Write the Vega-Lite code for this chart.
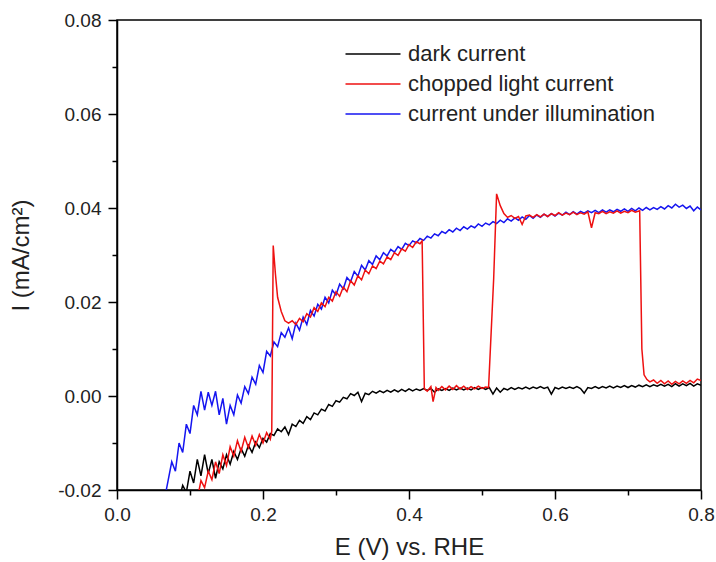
{
"$schema": "https://vega.github.io/schema/vega-lite/v6.json",
"width": 584, "height": 470,
"autosize": {"type": "none"},
"padding": {"left": 117, "top": 20, "right": 15, "bottom": 72},
"datasets": {
"dark": [
{"E":0.085,"I":-0.022},{"E":0.09,"I":-0.019},{"E":0.095,"I":-0.0205},{"E":0.1,"I":-0.016},{"E":0.105,"I":-0.0185},{"E":0.11,"I":-0.0135},{"E":0.115,"I":-0.017},{"E":0.12,"I":-0.0125},{"E":0.125,"I":-0.0165},{"E":0.13,"I":-0.0135},{"E":0.135,"I":-0.0175},{"E":0.14,"I":-0.014},{"E":0.145,"I":-0.0155},{"E":0.15,"I":-0.0125},{"E":0.155,"I":-0.0145},{"E":0.16,"I":-0.0118},{"E":0.165,"I":-0.0135},{"E":0.17,"I":-0.0112},{"E":0.175,"I":-0.0128},{"E":0.18,"I":-0.0105},{"E":0.185,"I":-0.012},{"E":0.19,"I":-0.0098},{"E":0.195,"I":-0.011},{"E":0.2,"I":-0.009},{"E":0.205,"I":-0.0098},{"E":0.21,"I":-0.008},{"E":0.215,"I":-0.0084},{"E":0.22,"I":-0.007},{"E":0.225,"I":-0.0076},{"E":0.23,"I":-0.0066},{"E":0.235,"I":-0.0082},{"E":0.24,"I":-0.006},{"E":0.245,"I":-0.0065},{"E":0.25,"I":-0.0052},{"E":0.255,"I":-0.0058},{"E":0.26,"I":-0.0044},{"E":0.265,"I":-0.005},{"E":0.27,"I":-0.0036},{"E":0.275,"I":-0.004},{"E":0.28,"I":-0.0028},{"E":0.285,"I":-0.0032},{"E":0.29,"I":-0.0018},{"E":0.295,"I":-0.0022},{"E":0.3,"I":-0.001},{"E":0.305,"I":-0.0013},{"E":0.31,"I":-0.0003},{"E":0.315,"I":-0.0006},{"E":0.32,"I":0.0005},{"E":0.325,"I":0.0001},{"E":0.33,"I":0.0008},{"E":0.335,"I":-0.0012},{"E":0.34,"I":0.0006},{"E":0.345,"I":0.0003},{"E":0.35,"I":0.001},{"E":0.355,"I":0.0006},{"E":0.36,"I":0.0011},{"E":0.365,"I":0.0007},{"E":0.37,"I":0.0012},{"E":0.375,"I":0.0008},{"E":0.38,"I":0.0013},{"E":0.385,"I":0.0009},{"E":0.39,"I":0.0014},{"E":0.395,"I":0.001},{"E":0.4,"I":0.0015},{"E":0.405,"I":0.0011},{"E":0.41,"I":0.0015},{"E":0.415,"I":0.0012},{"E":0.42,"I":0.0016},{"E":0.425,"I":0.0012},{"E":0.43,"I":0.0016},{"E":0.435,"I":0.0008},{"E":0.44,"I":0.0015},{"E":0.445,"I":0.0012},{"E":0.45,"I":0.0016},{"E":0.455,"I":0.0012},{"E":0.46,"I":0.0017},{"E":0.465,"I":0.0013},{"E":0.47,"I":0.0017},{"E":0.475,"I":0.0013},{"E":0.48,"I":0.0017},{"E":0.485,"I":0.0013},{"E":0.49,"I":0.0018},{"E":0.495,"I":0.0014},{"E":0.5,"I":0.0018},{"E":0.505,"I":0.0014},{"E":0.51,"I":0.0018},{"E":0.515,"I":0.0004},{"E":0.52,"I":0.0017},{"E":0.525,"I":0.0008},{"E":0.53,"I":0.0016},{"E":0.535,"I":0.0013},{"E":0.54,"I":0.0018},{"E":0.545,"I":0.0014},{"E":0.55,"I":0.0018},{"E":0.555,"I":0.0015},{"E":0.56,"I":0.0019},{"E":0.565,"I":0.0015},{"E":0.57,"I":0.0019},{"E":0.575,"I":0.0016},{"E":0.58,"I":0.002},{"E":0.585,"I":0.0016},{"E":0.59,"I":0.0019},{"E":0.595,"I":0.0004},{"E":0.6,"I":0.0018},{"E":0.605,"I":0.0015},{"E":0.61,"I":0.0019},{"E":0.615,"I":0.0016},{"E":0.62,"I":0.0019},{"E":0.625,"I":0.0016},{"E":0.63,"I":0.002},{"E":0.635,"I":0.0016},{"E":0.64,"I":0.0006},{"E":0.645,"I":0.0018},{"E":0.65,"I":0.0016},{"E":0.655,"I":0.002},{"E":0.66,"I":0.0016},{"E":0.665,"I":0.002},{"E":0.67,"I":0.0017},{"E":0.675,"I":0.0021},{"E":0.68,"I":0.0017},{"E":0.685,"I":0.0021},{"E":0.69,"I":0.0018},{"E":0.695,"I":0.0022},{"E":0.7,"I":0.0018},{"E":0.705,"I":0.0022},{"E":0.71,"I":0.0019},{"E":0.715,"I":0.0023},{"E":0.72,"I":0.002},{"E":0.725,"I":0.0024},{"E":0.73,"I":0.002},{"E":0.735,"I":0.0024},{"E":0.74,"I":0.0021},{"E":0.745,"I":0.0025},{"E":0.75,"I":0.0021},{"E":0.755,"I":0.0025},{"E":0.76,"I":0.002},{"E":0.765,"I":0.0026},{"E":0.77,"I":0.0021},{"E":0.775,"I":0.0026},{"E":0.78,"I":0.0022},{"E":0.785,"I":0.0027},{"E":0.79,"I":0.0021},{"E":0.795,"I":0.0026},{"E":0.8,"I":0.0023}
],
"illum": [
{"E":0.065,"I":-0.022},{"E":0.07,"I":-0.018},{"E":0.075,"I":-0.014},{"E":0.08,"I":-0.016},{"E":0.085,"I":-0.01},{"E":0.09,"I":-0.012},{"E":0.095,"I":-0.006},{"E":0.1,"I":-0.008},{"E":0.105,"I":-0.002},{"E":0.11,"I":-0.004},{"E":0.115,"I":0.001},{"E":0.12,"I":-0.003},{"E":0.125,"I":0.0008},{"E":0.13,"I":-0.002},{"E":0.135,"I":0.001},{"E":0.14,"I":-0.004},{"E":0.145,"I":-0.0005},{"E":0.15,"I":-0.006},{"E":0.155,"I":-0.002},{"E":0.16,"I":-0.004},{"E":0.165,"I":0.0002},{"E":0.17,"I":-0.0015},{"E":0.175,"I":0.002},{"E":0.18,"I":0.0005},{"E":0.185,"I":0.004},{"E":0.19,"I":0.0025},{"E":0.195,"I":0.0065},{"E":0.2,"I":0.005},{"E":0.205,"I":0.0095},{"E":0.21,"I":0.0085},{"E":0.215,"I":0.0115},{"E":0.22,"I":0.0105},{"E":0.225,"I":0.0135},{"E":0.23,"I":0.0125},{"E":0.235,"I":0.0145},{"E":0.24,"I":0.0122},{"E":0.245,"I":0.0155},{"E":0.25,"I":0.014},{"E":0.255,"I":0.0168},{"E":0.26,"I":0.0152},{"E":0.265,"I":0.0182},{"E":0.27,"I":0.017},{"E":0.275,"I":0.0195},{"E":0.28,"I":0.0185},{"E":0.285,"I":0.021},{"E":0.29,"I":0.0198},{"E":0.295,"I":0.0225},{"E":0.3,"I":0.0215},{"E":0.305,"I":0.0238},{"E":0.31,"I":0.0228},{"E":0.315,"I":0.0252},{"E":0.32,"I":0.0243},{"E":0.325,"I":0.0265},{"E":0.33,"I":0.0255},{"E":0.335,"I":0.0278},{"E":0.34,"I":0.0268},{"E":0.345,"I":0.0288},{"E":0.35,"I":0.028},{"E":0.355,"I":0.0298},{"E":0.36,"I":0.029},{"E":0.365,"I":0.0305},{"E":0.37,"I":0.0298},{"E":0.375,"I":0.0312},{"E":0.38,"I":0.0306},{"E":0.385,"I":0.0318},{"E":0.39,"I":0.0312},{"E":0.395,"I":0.0325},{"E":0.4,"I":0.032},{"E":0.405,"I":0.033},{"E":0.41,"I":0.0326},{"E":0.415,"I":0.0335},{"E":0.42,"I":0.0331},{"E":0.425,"I":0.034},{"E":0.43,"I":0.0336},{"E":0.435,"I":0.0345},{"E":0.44,"I":0.0341},{"E":0.445,"I":0.035},{"E":0.45,"I":0.0346},{"E":0.455,"I":0.0354},{"E":0.46,"I":0.0349},{"E":0.465,"I":0.0357},{"E":0.47,"I":0.0352},{"E":0.475,"I":0.036},{"E":0.48,"I":0.0355},{"E":0.485,"I":0.0362},{"E":0.49,"I":0.0358},{"E":0.495,"I":0.0366},{"E":0.5,"I":0.0361},{"E":0.505,"I":0.0368},{"E":0.51,"I":0.0364},{"E":0.515,"I":0.0371},{"E":0.52,"I":0.0367},{"E":0.525,"I":0.0374},{"E":0.53,"I":0.0369},{"E":0.535,"I":0.0377},{"E":0.54,"I":0.0372},{"E":0.545,"I":0.0379},{"E":0.55,"I":0.0374},{"E":0.555,"I":0.0381},{"E":0.56,"I":0.0376},{"E":0.565,"I":0.0384},{"E":0.57,"I":0.0378},{"E":0.575,"I":0.0385},{"E":0.58,"I":0.038},{"E":0.585,"I":0.0387},{"E":0.59,"I":0.0382},{"E":0.595,"I":0.0388},{"E":0.6,"I":0.0383},{"E":0.605,"I":0.0389},{"E":0.61,"I":0.0385},{"E":0.615,"I":0.0391},{"E":0.62,"I":0.0386},{"E":0.625,"I":0.0392},{"E":0.63,"I":0.0387},{"E":0.635,"I":0.0393},{"E":0.64,"I":0.0389},{"E":0.645,"I":0.0394},{"E":0.65,"I":0.039},{"E":0.655,"I":0.0395},{"E":0.66,"I":0.039},{"E":0.665,"I":0.0396},{"E":0.67,"I":0.0391},{"E":0.675,"I":0.0396},{"E":0.68,"I":0.0392},{"E":0.685,"I":0.0397},{"E":0.69,"I":0.0393},{"E":0.695,"I":0.0398},{"E":0.7,"I":0.0393},{"E":0.705,"I":0.0399},{"E":0.71,"I":0.0394},{"E":0.715,"I":0.04},{"E":0.72,"I":0.0395},{"E":0.725,"I":0.0401},{"E":0.73,"I":0.0396},{"E":0.735,"I":0.0401},{"E":0.74,"I":0.0397},{"E":0.745,"I":0.0403},{"E":0.75,"I":0.0398},{"E":0.755,"I":0.0405},{"E":0.76,"I":0.04},{"E":0.765,"I":0.0408},{"E":0.77,"I":0.0402},{"E":0.775,"I":0.0406},{"E":0.78,"I":0.0399},{"E":0.785,"I":0.0404},{"E":0.79,"I":0.0394},{"E":0.795,"I":0.0402},{"E":0.8,"I":0.0396}
],
"chop": [
{"E":0.11,"I":-0.022},{"E":0.115,"I":-0.018},{"E":0.12,"I":-0.0195},{"E":0.125,"I":-0.016},{"E":0.13,"I":-0.0178},{"E":0.135,"I":-0.014},{"E":0.14,"I":-0.0165},{"E":0.145,"I":-0.0125},{"E":0.15,"I":-0.0148},{"E":0.155,"I":-0.0108},{"E":0.16,"I":-0.0128},{"E":0.165,"I":-0.0095},{"E":0.17,"I":-0.0118},{"E":0.175,"I":-0.0088},{"E":0.18,"I":-0.011},{"E":0.185,"I":-0.0085},{"E":0.19,"I":-0.0105},{"E":0.195,"I":-0.0082},{"E":0.2,"I":-0.01},{"E":0.205,"I":-0.0078},{"E":0.21,"I":-0.0092},{"E":0.212,"I":-0.0075},{"E":0.214,"I":0.032},{"E":0.217,"I":0.026},{"E":0.22,"I":0.021},{"E":0.225,"I":0.018},{"E":0.23,"I":0.016},{"E":0.235,"I":0.0155},{"E":0.24,"I":0.016},{"E":0.245,"I":0.0152},{"E":0.25,"I":0.0165},{"E":0.255,"I":0.0158},{"E":0.26,"I":0.0175},{"E":0.265,"I":0.0168},{"E":0.27,"I":0.0188},{"E":0.275,"I":0.018},{"E":0.28,"I":0.0198},{"E":0.285,"I":0.019},{"E":0.29,"I":0.021},{"E":0.295,"I":0.0202},{"E":0.3,"I":0.0222},{"E":0.305,"I":0.0212},{"E":0.31,"I":0.0232},{"E":0.315,"I":0.0222},{"E":0.32,"I":0.0245},{"E":0.325,"I":0.0236},{"E":0.33,"I":0.0256},{"E":0.335,"I":0.0247},{"E":0.34,"I":0.0268},{"E":0.345,"I":0.026},{"E":0.35,"I":0.0277},{"E":0.355,"I":0.0271},{"E":0.36,"I":0.0287},{"E":0.365,"I":0.0281},{"E":0.37,"I":0.0296},{"E":0.375,"I":0.029},{"E":0.38,"I":0.0305},{"E":0.385,"I":0.0299},{"E":0.39,"I":0.0313},{"E":0.395,"I":0.0308},{"E":0.4,"I":0.0322},{"E":0.405,"I":0.0316},{"E":0.41,"I":0.0328},{"E":0.415,"I":0.0324},{"E":0.418,"I":0.033},{"E":0.421,"I":0.0015},{"E":0.425,"I":0.001},{"E":0.43,"I":0.002},{"E":0.433,"I":-0.0012},{"E":0.437,"I":0.0018},{"E":0.44,"I":0.0012},{"E":0.445,"I":0.002},{"E":0.45,"I":0.0013},{"E":0.455,"I":0.0021},{"E":0.46,"I":0.0014},{"E":0.465,"I":0.0022},{"E":0.47,"I":0.0015},{"E":0.475,"I":0.0021},{"E":0.48,"I":0.0014},{"E":0.485,"I":0.002},{"E":0.49,"I":0.0015},{"E":0.495,"I":0.0021},{"E":0.5,"I":0.0016},{"E":0.505,"I":0.0019},{"E":0.509,"I":0.0018},{"E":0.516,"I":0.025},{"E":0.52,"I":0.043},{"E":0.525,"I":0.0405},{"E":0.53,"I":0.0388},{"E":0.535,"I":0.038},{"E":0.54,"I":0.0384},{"E":0.545,"I":0.0378},{"E":0.55,"I":0.0382},{"E":0.555,"I":0.0365},{"E":0.56,"I":0.0383},{"E":0.565,"I":0.0385},{"E":0.57,"I":0.038},{"E":0.575,"I":0.0386},{"E":0.58,"I":0.0381},{"E":0.585,"I":0.0387},{"E":0.59,"I":0.0382},{"E":0.595,"I":0.0388},{"E":0.6,"I":0.0384},{"E":0.605,"I":0.039},{"E":0.61,"I":0.0385},{"E":0.615,"I":0.0389},{"E":0.62,"I":0.0386},{"E":0.625,"I":0.0391},{"E":0.63,"I":0.0386},{"E":0.635,"I":0.039},{"E":0.64,"I":0.0387},{"E":0.645,"I":0.0392},{"E":0.65,"I":0.0358},{"E":0.655,"I":0.039},{"E":0.66,"I":0.0388},{"E":0.665,"I":0.0393},{"E":0.67,"I":0.0388},{"E":0.675,"I":0.0392},{"E":0.68,"I":0.0389},{"E":0.685,"I":0.0394},{"E":0.69,"I":0.0389},{"E":0.695,"I":0.0393},{"E":0.7,"I":0.039},{"E":0.705,"I":0.0395},{"E":0.71,"I":0.0391},{"E":0.716,"I":0.0394},{"E":0.719,"I":0.01},{"E":0.722,"I":0.0045},{"E":0.726,"I":0.0035},{"E":0.73,"I":0.003},{"E":0.735,"I":0.0034},{"E":0.74,"I":0.0027},{"E":0.745,"I":0.0033},{"E":0.75,"I":0.0026},{"E":0.755,"I":0.0032},{"E":0.76,"I":0.0025},{"E":0.765,"I":0.0031},{"E":0.77,"I":0.0026},{"E":0.775,"I":0.0032},{"E":0.78,"I":0.0027},{"E":0.785,"I":0.0033},{"E":0.79,"I":0.0028},{"E":0.795,"I":0.0036},{"E":0.8,"I":0.0033}
]
},
"layer": [
{
"data": {"name": "dark"},
"mark": {"type": "line", "clip": true, "strokeWidth": 1.5},
"encoding": {
"x": {"field": "E", "type": "quantitative", "scale": {"domain": [0, 0.8], "nice": false},
 "axis": {"orient": "bottom", "values": [0, 0.2, 0.4, 0.6, 0.8], "format": ".1f", "labelFlush": false, "labelOverlap": false, "tickSize": 9, "tickWidth": 1.5, "tickColor": "black", "domainColor": "black", "domainWidth": 1.5, "labelFontSize": 19, "labelPadding": 6, "labelColor": "#222", "labelFont": "Liberation Sans", "title": "E (V) vs. RHE", "titleFont": "Liberation Sans", "titleFontSize": 24, "titleFontWeight": "normal", "titleColor": "#222", "titlePadding": 11, "grid": false}},
"y": {"field": "I", "type": "quantitative", "scale": {"domain": [-0.02, 0.08], "nice": false, "zero": false},
 "axis": {"orient": "left", "values": [-0.02, 0, 0.02, 0.04, 0.06, 0.08], "format": ".2f", "labelExpr": "replace(datum.label, '−', '-')", "labelOverlap": false, "labelFlush": false, "tickSize": 9, "tickWidth": 1.5, "tickColor": "black", "domainColor": "black", "domainWidth": 1.5, "labelFontSize": 19, "labelPadding": 7, "labelColor": "#222", "labelFont": "Liberation Sans", "title": "I (mA/cm²)", "titleFont": "Liberation Sans", "titleFontSize": 24, "titleFontWeight": "normal", "titleColor": "#222", "titlePadding": 24, "grid": false}},
"color": {"datum": "dark current", "type": "nominal",
 "scale": {"domain": ["dark current", "chopped light current", "current under illumination"], "range": ["#000000", "#ee1111", "#1515f0"]},
 "legend": {"orient": "none", "legendX": 244, "legendY": 22, "title": null, "symbolType": "M-2.5,0H2.5", "symbolSize": 484, "symbolStrokeWidth": 1.5, "labelFontSize": 22, "labelFont": "Liberation Sans", "labelColor": "#222", "labelOffset": 23, "labelLimit": 0, "rowPadding": 7}}
}
},
{
"data": {"name": "illum"},
"mark": {"type": "line", "clip": true, "strokeWidth": 1.5},
"encoding": {
"x": {"field": "E", "type": "quantitative", "axis": {"orient": "bottom", "values": [0.1, 0.3, 0.5, 0.7], "labels": false, "domain": false, "tickSize": 5, "tickWidth": 1.5, "tickColor": "black", "title": null, "grid": false}},
"y": {"field": "I", "type": "quantitative", "axis": {"orient": "left", "values": [-0.01, 0.01, 0.03, 0.05, 0.07], "labels": false, "domain": false, "tickSize": 5, "tickWidth": 1.5, "tickColor": "black", "title": null, "grid": false}},
"color": {"datum": "current under illumination", "type": "nominal"}
}
},
{
"data": {"name": "chop"},
"mark": {"type": "line", "clip": true, "strokeWidth": 1.5},
"encoding": {
"x": {"field": "E", "type": "quantitative", "axis": null},
"y": {"field": "I", "type": "quantitative", "axis": null},
"color": {"datum": "chopped light current", "type": "nominal"}
}
}
],
"resolve": {"axis": {"x": "independent", "y": "independent"}},
"config": {"view": {"stroke": "black", "strokeWidth": 1.5}, "font": "Liberation Sans", "background": "white"}
}
